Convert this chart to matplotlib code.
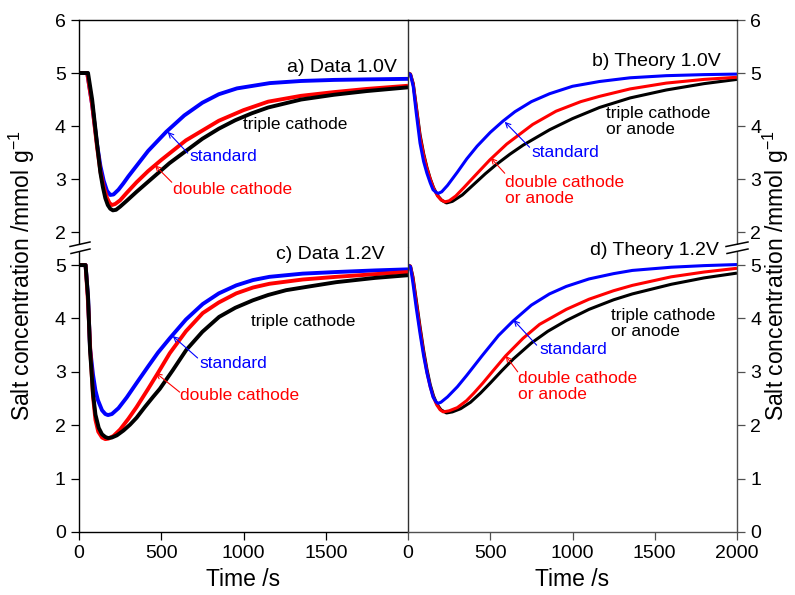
import matplotlib
matplotlib.use("Agg")
import matplotlib.pyplot as plt
from matplotlib.lines import Line2D

plt.rcParams['font.family'] = ['Liberation Sans', 'DejaVu Sans']
plt.rcParams['mathtext.fontset'] = 'custom'
plt.rcParams['mathtext.rm'] = 'Liberation Sans'
plt.rcParams['mathtext.it'] = 'Liberation Sans:italic'
plt.rcParams['mathtext.bf'] = 'Liberation Sans:bold'

# ---------------- data ----------------
# a) Data 1.0V
a_std_t = [0, 50, 80, 110, 130, 150, 170, 190, 210, 240, 270, 300, 350, 420, 530, 640, 750, 850, 960, 1160, 1350, 1550, 1750, 2000]
a_std_v = [5.0, 5.0, 4.4, 3.65, 3.25, 2.97, 2.78, 2.70, 2.71, 2.80, 2.92, 3.05, 3.25, 3.53, 3.89, 4.2, 4.44, 4.6, 4.71, 4.81, 4.85, 4.87, 4.88, 4.89]
a_dbl_t = [0, 50, 80, 110, 130, 150, 170, 185, 200, 220, 250, 290, 350, 420, 500, 650, 850, 1000, 1150, 1350, 1550, 1750, 2000]
a_dbl_v = [5.0, 5.0, 4.4, 3.6, 3.15, 2.85, 2.65, 2.55, 2.51, 2.53, 2.60, 2.74, 2.94, 3.15, 3.36, 3.73, 4.1, 4.3, 4.46, 4.57, 4.64, 4.7, 4.76]
a_tri_t = [0, 55, 80, 110, 130, 145, 160, 175, 190, 206, 225, 250, 290, 350, 450, 550, 650, 750, 850, 950, 1050, 1150, 1350, 1550, 1750, 2000]
a_tri_v = [5.0, 5.0, 4.5, 3.66, 3.12, 2.85, 2.64, 2.51, 2.44, 2.41, 2.42, 2.48, 2.59, 2.76, 3.03, 3.30, 3.53, 3.76, 3.95, 4.11, 4.24, 4.35, 4.50, 4.59, 4.66, 4.73]

# b) Theory 1.0V
b_std_t = [0, 15, 32, 50, 73, 95, 115, 135, 152, 170, 184, 205, 240, 300, 357, 420, 500, 576, 650, 750, 861, 1000, 1164, 1350, 1570, 1800, 2000]
b_std_v = [5.0, 4.97, 4.74, 4.25, 3.68, 3.33, 3.11, 2.93, 2.80, 2.75, 2.73, 2.76, 2.88, 3.13, 3.38, 3.62, 3.88, 4.09, 4.27, 4.46, 4.61, 4.75, 4.84, 4.91, 4.95, 4.97, 4.98]
b_dbl_t = [0, 15, 32, 50, 73, 95, 115, 135, 155, 180, 200, 224, 250, 290, 340, 400, 497, 600, 758, 900, 1050, 1164, 1350, 1570, 1800, 2000]
b_dbl_v = [5.0, 4.98, 4.78, 4.35, 3.8, 3.45, 3.2, 3.0, 2.83, 2.68, 2.61, 2.57, 2.59, 2.68, 2.84, 3.04, 3.36, 3.66, 4.03, 4.28, 4.46, 4.56, 4.7, 4.81, 4.88, 4.92]
b_tri_t = [0, 15, 32, 50, 73, 95, 115, 135, 155, 180, 205, 234, 270, 330, 400, 470, 535, 620, 700, 861, 1000, 1164, 1350, 1570, 1800, 2000]
b_tri_v = [5.0, 4.98, 4.8, 4.38, 3.84, 3.48, 3.22, 3.01, 2.84, 2.69, 2.60, 2.55, 2.58, 2.70, 2.90, 3.10, 3.27, 3.47, 3.64, 3.93, 4.14, 4.35, 4.53, 4.68, 4.8, 4.88]

# c) Data 1.2V
c_std_t = [0, 40, 55, 67, 85, 100, 115, 140, 160, 176, 200, 240, 290, 350, 420, 480, 552, 650, 752, 850, 956, 1058, 1158, 1360, 1564, 1800, 2000]
c_std_v = [5.0, 5.0, 4.4, 3.45, 2.95, 2.65, 2.47, 2.28, 2.21, 2.19, 2.21, 2.32, 2.52, 2.79, 3.1, 3.36, 3.63, 3.98, 4.27, 4.47, 4.62, 4.72, 4.78, 4.84, 4.87, 4.9, 4.92]
c_dbl_t = [0, 40, 55, 67, 85, 100, 117, 140, 160, 180, 210, 250, 300, 350, 420, 480, 552, 650, 752, 850, 956, 1058, 1158, 1360, 1564, 1800, 2000]
c_dbl_v = [5.0, 5.0, 4.3, 3.5, 2.55, 2.1, 1.88, 1.77, 1.74, 1.75, 1.80, 1.92, 2.12, 2.34, 2.68, 2.98, 3.35, 3.76, 4.10, 4.3, 4.47, 4.58, 4.65, 4.73, 4.78, 4.83, 4.87]
c_tri_t = [0, 40, 55, 67, 85, 100, 120, 140, 160, 176, 200, 230, 270, 310, 350, 400, 450, 491, 570, 652, 750, 852, 950, 1057, 1150, 1259, 1400, 1564, 1800, 2000]
c_tri_v = [5.0, 5.0, 4.4, 3.41, 2.6, 2.2, 1.95, 1.83, 1.78, 1.76, 1.77, 1.81, 1.90, 2.01, 2.14, 2.34, 2.53, 2.68, 3.03, 3.41, 3.75, 4.03, 4.2, 4.34, 4.44, 4.53, 4.6, 4.68, 4.76, 4.81]

# d) Theory 1.2V
d_std_t = [0, 15, 30, 50, 73, 95, 115, 135, 152, 170, 182, 200, 240, 300, 356, 450, 550, 638, 750, 860, 962, 1100, 1250, 1364, 1600, 1800, 2000]
d_std_v = [5.0, 4.97, 4.66, 4.2, 3.72, 3.3, 2.98, 2.72, 2.53, 2.44, 2.41, 2.43, 2.53, 2.72, 2.93, 3.3, 3.68, 3.95, 4.25, 4.46, 4.60, 4.74, 4.84, 4.9, 4.96, 4.99, 5.01]
d_dbl_t = [0, 15, 30, 50, 73, 95, 115, 135, 155, 175, 195, 214, 250, 300, 356, 400, 455, 520, 594, 700, 800, 962, 1100, 1250, 1364, 1600, 1800, 2000]
d_dbl_v = [5.0, 4.98, 4.75, 4.3, 3.8, 3.35, 3.0, 2.72, 2.52, 2.38, 2.29, 2.25, 2.27, 2.33, 2.46, 2.60, 2.79, 3.03, 3.30, 3.63, 3.89, 4.17, 4.36, 4.52, 4.62, 4.78, 4.87, 4.94]
d_tri_t = [0, 15, 30, 50, 73, 95, 115, 135, 155, 175, 200, 234, 270, 320, 380, 440, 500, 570, 640, 750, 850, 962, 1100, 1250, 1364, 1600, 1800, 2000]
d_tri_v = [5.0, 4.98, 4.78, 4.35, 3.85, 3.4, 3.05, 2.76, 2.55, 2.4, 2.29, 2.23, 2.25, 2.31, 2.43, 2.60, 2.79, 3.02, 3.24, 3.54, 3.76, 3.96, 4.17, 4.35, 4.46, 4.64, 4.76, 4.85]

panel_titles = ["a) Data 1.0V", "b) Theory 1.0V", "c) Data 1.2V", "d) Theory 1.2V"]
left_xticks = [0, 500, 1000, 1500]
right_xticks = [0, 500, 1000, 1500, 2000]
top_yticks = [2, 3, 4, 5, 6]
bottom_yticks = [0, 1, 2, 3, 4, 5]
xlabel = "Time /s"
ylabel = "Salt concentration /mmol g$^{-1}$"

BLUE, RED, BLACK = "#0000ff", "#ff0000", "#000000"
W, H = 795, 595

fig = plt.figure(figsize=(W / 100, H / 100), dpi=100)

def fx(px):
    return px / W

def fy(py):
    return 1 - py / H

xL, xM, xR = 79, 408, 737
yT, yB, yBot = 20, 248, 532
axa = fig.add_axes([fx(xL), fy(yB), (xM - xL) / W, (yB - yT) / H])
axb = fig.add_axes([fx(xM), fy(yB), (xR - xM) / W, (yB - yT) / H])
axc = fig.add_axes([fx(xL), fy(yBot), (xM - xL) / W, (yBot - yB) / H])
axd = fig.add_axes([fx(xM), fy(yBot), (xR - xM) / W, (yBot - yB) / H])

lw_data, lw_theory = 2.8, 2.2
kw = dict(solid_joinstyle='round', solid_capstyle='butt')
axa.plot(a_std_t, a_std_v, color=BLUE, lw=lw_data, **kw)
axa.plot(a_dbl_t, a_dbl_v, color=RED, lw=lw_data, **kw)
axa.plot(a_tri_t, a_tri_v, color=BLACK, lw=lw_data, **kw)
axb.plot(b_tri_t, b_tri_v, color=BLACK, lw=lw_theory, **kw)
axb.plot(b_dbl_t, b_dbl_v, color=RED, lw=lw_theory, **kw)
axb.plot(b_std_t, b_std_v, color=BLUE, lw=lw_theory, **kw)
axc.plot(c_std_t, c_std_v, color=BLUE, lw=lw_data, **kw)
axc.plot(c_dbl_t, c_dbl_v, color=RED, lw=lw_data, **kw)
axc.plot(c_tri_t, c_tri_v, color=BLACK, lw=lw_data, **kw)
axd.plot(d_tri_t, d_tri_v, color=BLACK, lw=lw_theory, **kw)
axd.plot(d_dbl_t, d_dbl_v, color=RED, lw=lw_theory, **kw)
axd.plot(d_std_t, d_std_v, color=BLUE, lw=lw_theory, **kw)

tick_fs = 14
for ax in (axa, axb, axc, axd):
    ax.set_xlim(0, 2000)
    ax.tick_params(direction='out', length=5.5, width=0.9, labelsize=tick_fs, pad=4)
for ax in (axa, axb):
    ax.set_ylim(1.7, 6)
    ax.set_yticks(top_yticks)
    ax.spines['bottom'].set_visible(False)
    ax.set_xticks([])
for ax in (axc, axd):
    ax.set_ylim(0, 5.32)
    ax.set_yticks(bottom_yticks)
    ax.spines['top'].set_visible(False)
axc.set_xticks(left_xticks)
axd.set_xticks(right_xticks)
for ax in (axa, axc):
    ax.spines['right'].set_visible(False)
for ax in (axb, axd):
    ax.yaxis.tick_right()
    ax.spines['left'].set_color('#303030')
    ax.spines['right'].set_color('#505050')
    ax.tick_params(axis='y', colors='#505050', labelcolor='black')
axd.spines['bottom'].set_color('#505050')
axd.tick_params(axis='x', colors='#505050', labelcolor='black')
for ax in (axa, axb, axc, axd):
    for s in ax.spines.values():
        s.set_linewidth(1.0)

# panel titles
title_fs = 14
axa.text(1933, 5.11, panel_titles[0], ha='right', va='center', fontsize=title_fs)
axb.text(1903, 5.21, panel_titles[1], ha='right', va='center', fontsize=title_fs)
axc.text(1855, 5.19, panel_titles[2], ha='right', va='center', fontsize=title_fs, clip_on=False)
axd.text(1891, 5.28, panel_titles[3], ha='right', va='center', fontsize=title_fs, clip_on=False)

ann_fs = 12.5
arr = dict(arrowstyle='->', lw=0.8, shrinkA=0, shrinkB=0, mutation_scale=9)

def label(ax, txt, xy_text, xy_tip, color, text_anchor):
    ax.text(xy_text[0], xy_text[1], txt, color=color, fontsize=ann_fs, ha='left', va='center', linespacing=1.1)
    if xy_tip is not None:
        ax.annotate('', xy=xy_tip, xytext=text_anchor, arrowprops=dict(arr, color=color))

# a
label(axa, "triple cathode", (994, 4.02), None, BLACK, None)
label(axa, "standard", (673, 3.42), (539, 3.89), BLUE, (661, 3.49))
label(axa, "double cathode", (570, 2.81), (461, 3.26), RED, (564, 2.94))
# b
label(axb, "triple cathode\nor anode", (1206, 4.09), None, BLACK, None)
label(axb, "standard", (752, 3.51), (588, 4.08), BLUE, (739, 3.60))
label(axb, "double cathode\nor anode", (588, 2.79), (503, 3.40), RED, (588, 3.11))
# c
label(axc, "triple cathode", (1048, 3.95), None, BLACK, None)
label(axc, "standard", (733, 3.16), (570, 3.67), BLUE, (721, 3.26))
label(axc, "double cathode", (612, 2.55), (467, 2.98), RED, (612, 2.62))
# d
label(axd, "triple cathode\nor anode", (1236, 3.90), None, BLACK, None)
label(axd, "standard", (800, 3.41), (642, 3.97), BLUE, (782, 3.50))
label(axd, "double cathode\nor anode", (667, 2.72), (594, 3.30), RED, (667, 3.00))

# axis labels
lab_fs = 16.5
fig.text(fx(243), fy(580), xlabel, ha='center', va='center', fontsize=lab_fs)
fig.text(fx(572), fy(580), xlabel, ha='center', va='center', fontsize=lab_fs)
fig.text(fx(22), fy(276), ylabel, ha='center', va='center', rotation=90, fontsize=lab_fs)
fig.text(fx(776), fy(276), ylabel, ha='center', va='center', rotation=90, fontsize=lab_fs)

# axis break marks
for (x0, x1) in ((70, 90), (726, 748)):
    xc = (x0 + x1) / 2
    fig.add_artist(Line2D([fx(xc - 3), fx(xc + 3)], [fy(248), fy(248)], color='white', lw=5,
                          transform=fig.transFigure))
    fig.add_artist(Line2D([fx(x0), fx(x1)], [fy(246.5), fy(242)], color='black', lw=1.1,
                          transform=fig.transFigure))
    fig.add_artist(Line2D([fx(x0 + 1), fx(x1)], [fy(253.5), fy(249)], color='black', lw=1.1,
                          transform=fig.transFigure))

fig.savefig("out.png", dpi=100)
